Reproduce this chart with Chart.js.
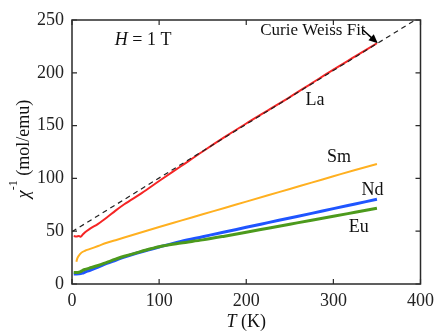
<!DOCTYPE html>
<html><head><meta charset="utf-8">
<script src="https://cdn.jsdelivr.net/npm/chart.js@4/dist/chart.umd.min.js"></script>
<style>html,body{margin:0;padding:0;background:#fff}#wrap{width:440px;height:332px}</style>
</head><body><div id="wrap"><canvas id="c" width="440" height="332"></canvas></div>
<script>
const temps = [2,5,8,10,12,15,20,30,40,50,60,80,100,125,150,175,200,225,250,275,300,325,350];
const laValues = [45.5,45,45.5,44.8,46.5,49,52,57,63,69.5,75.5,86,97.5,111.5,125.5,139,152,164.5,177,190,203,215.5,228];
const smTemps = [5,6,8,10,12,15,20,30,40,50,60,80,100,125,150,175,200,225,250,275,300,325,350];
const smValues = [21,24,27,29,30.3,31.5,33,36,39,41.5,44,49,54,60,66,72,78,84,90,96,102,108,113.6];
const ndValues = [9.5,9.5,9.6,9.8,10.3,11.3,12.8,16,19.5,22.5,25.5,30.5,35,40.4,44.8,49.2,53.7,58.1,62.5,66.9,71.4,75.8,80.2];
const euValues = [11,11,11.2,11.7,12.8,13.8,15,17.5,20.5,23.5,26.3,31,35.3,38.8,41.8,45.3,49,52.8,56.6,60.4,64.1,67.9,71.7];
const fitT = [0,394];
const fitValues = [49.5,250];
const xTicks = [0,100,200,300,400];
const yTicks = [0,50,100,150,200,250];
const seriesLabels = ["La","Sm","Nd","Eu"];
const labelT = [279,306.5,345,329];
const labelY = [174,120,89,53.5];
const fitLabel = "Curie Weiss Fit";
const fitLabelPos = [276.5,240.5];
const arrowFrom = [334,240.5];
const arrowTo = [351,228];
const fieldPos = [81.6,231];

const pts = (xs, ys) => xs.map((x,i)=>({x:x,y:ys[i]}));
const serif = "'Liberation Serif','DejaVu Serif',serif";

const decor = {
  id:'decor',
  afterDraw(chart){
    const ctx = chart.ctx, a = chart.chartArea, xs = chart.scales.x, ys = chart.scales.y;
    ctx.save();
    ctx.strokeStyle = '#2a2a2a'; ctx.lineWidth = 1.5;
    ctx.strokeRect(a.left, a.top, a.right-a.left, a.bottom-a.top);
    ctx.lineWidth = 1.2;
    const tl = 5;
    xTicks.forEach(v=>{
      const p = xs.getPixelForValue(v);
      ctx.beginPath(); ctx.moveTo(p,a.bottom); ctx.lineTo(p,a.bottom-tl);
      ctx.moveTo(p,a.top); ctx.lineTo(p,a.top+tl); ctx.stroke();
    });
    yTicks.forEach(v=>{
      const p = ys.getPixelForValue(v);
      ctx.beginPath(); ctx.moveTo(a.left,p); ctx.lineTo(a.left+tl,p);
      ctx.moveTo(a.right,p); ctx.lineTo(a.right-tl,p); ctx.stroke();
    });
    ctx.fillStyle = '#111';
    ctx.font = "18px " + serif;
    ctx.textAlign = 'center'; ctx.textBaseline = 'middle';
    seriesLabels.forEach((s,i)=>{
      ctx.fillText(s, xs.getPixelForValue(labelT[i]), ys.getPixelForValue(labelY[i]));
    });
    ctx.font = "17px " + serif;
    ctx.fillText(fitLabel, xs.getPixelForValue(fitLabelPos[0]), ys.getPixelForValue(fitLabelPos[1]));
    const x0 = xs.getPixelForValue(arrowFrom[0]), y0 = ys.getPixelForValue(arrowFrom[1]);
    const x1 = xs.getPixelForValue(arrowTo[0]), y1 = ys.getPixelForValue(arrowTo[1]);
    const ang = Math.atan2(y1-y0, x1-x0);
    ctx.strokeStyle = '#000'; ctx.lineWidth = 1.5;
    ctx.beginPath(); ctx.moveTo(x0,y0); ctx.lineTo(x1-7*Math.cos(ang), y1-7*Math.sin(ang)); ctx.stroke();
    ctx.fillStyle = '#000';
    ctx.beginPath(); ctx.moveTo(x1,y1);
    ctx.lineTo(x1-9*Math.cos(ang)+4*Math.sin(ang), y1-9*Math.sin(ang)-4*Math.cos(ang));
    ctx.lineTo(x1-9*Math.cos(ang)-4*Math.sin(ang), y1-9*Math.sin(ang)+4*Math.cos(ang));
    ctx.closePath(); ctx.fill();
    ctx.fillStyle = '#111';
    const hx = xs.getPixelForValue(fieldPos[0]), hy = ys.getPixelForValue(fieldPos[1]);
    ctx.textAlign = 'left';
    ctx.font = "italic 18px " + serif;
    const wH = ctx.measureText('H').width;
    ctx.font = "18px " + serif;
    const rest = ' = 1 T';
    const wR = ctx.measureText(rest).width;
    let sx = hx - (wH+wR)/2;
    ctx.font = "italic 18px " + serif; ctx.fillText('H', sx, hy);
    ctx.font = "18px " + serif; ctx.fillText(rest, sx+wH, hy);
    const tx = (a.left+a.right)/2, ty = 322;
    ctx.font = "italic 18px " + serif;
    const wT = ctx.measureText('T').width;
    ctx.font = "18px " + serif;
    const wK = ctx.measureText(' (K)').width;
    sx = tx - (wT+wK)/2;
    ctx.font = "italic 18px " + serif; ctx.fillText('T', sx, ty);
    ctx.font = "18px " + serif; ctx.fillText(' (K)', sx+wT, ty);
    ctx.save();
    ctx.translate(24, 149);
    ctx.rotate(-Math.PI/2);
    ctx.font = "italic 18px " + serif;
    const wC = ctx.measureText('χ').width;
    ctx.font = "12px " + serif;
    const wS = ctx.measureText('-1').width;
    ctx.font = "18px " + serif;
    const wU = ctx.measureText(' (mol/emu)').width;
    sx = -(wC+wS+wU)/2;
    ctx.font = "italic 18px " + serif; ctx.fillText('χ', sx, 0);
    ctx.font = "12px " + serif; ctx.fillText('-1', sx+wC, -10);
    ctx.font = "18px " + serif; ctx.fillText(' (mol/emu)', sx+wC+wS, 0);
    ctx.restore();
    ctx.restore();
  }
};

new Chart(document.getElementById('c'), {
  type:'line',
  data:{datasets:[
    {label:'La', data:pts(temps,laValues), borderColor:'#f52525', borderWidth:2, pointRadius:0, cubicInterpolationMode:'monotone', order:2},
    {label:'Sm', data:pts(smTemps,smValues), borderColor:'#ffb020', borderWidth:2, pointRadius:0, cubicInterpolationMode:'monotone', order:3},
    {label:'Nd', data:pts(temps,ndValues), borderColor:'#1f55ff', borderWidth:3, pointRadius:0, cubicInterpolationMode:'monotone', order:5},
    {label:'Eu', data:pts(temps,euValues), borderColor:'#4c9a1c', borderWidth:3, pointRadius:0, cubicInterpolationMode:'monotone', order:4},
    {label:'Fit', data:pts(fitT,fitValues), borderColor:'#222', borderWidth:1.2, borderDash:[5,4], pointRadius:0, order:1}
  ]},
  options:{
    responsive:false, animation:false,
    layout:{padding:{left:0,top:20,right:15,bottom:0}},
    plugins:{legend:{display:false}, tooltip:{enabled:false}},
    scales:{
      x:{type:'linear', min:0, max:400,
        afterFit(s){ s.height = 48; },
        afterBuildTicks(s){ s.ticks = xTicks.map(v=>({value:v})); },
        grid:{display:false, drawTicks:false}, border:{display:false},
        ticks:{color:'#222', font:{family:serif, size:18}, padding:6, maxRotation:0}},
      y:{type:'linear', min:0, max:250,
        afterFit(s){ s.width = 72; },
        afterBuildTicks(s){ s.ticks = yTicks.map(v=>({value:v})); },
        grid:{display:false, drawTicks:false}, border:{display:false},
        ticks:{color:'#222', font:{family:serif, size:18}, padding:8}}
    }
  },
  plugins:[decor]
});
</script></body></html>
